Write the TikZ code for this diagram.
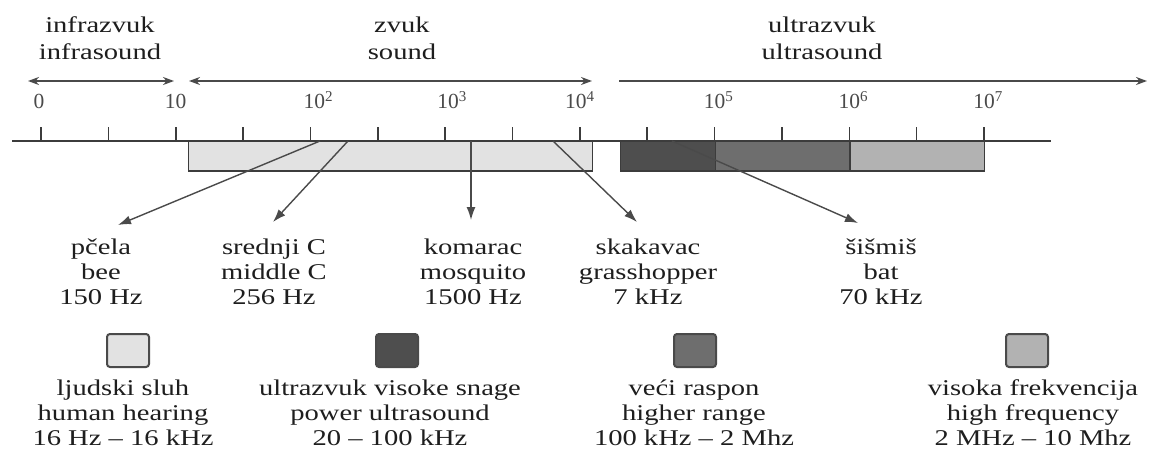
\documentclass[tikz,border=0pt]{standalone}
\usepackage{fontspec}
\setmainfont[FakeStretch=1.27]{Liberation Serif}
\newfontfamily\tickfont{Liberation Serif}
\usetikzlibrary{arrows.meta}
\definecolor{txt}{HTML}{1E1E1E}
\definecolor{ln}{HTML}{3C3C3C}
\definecolor{tk}{HTML}{4A4A4A}
\definecolor{humanfill}{HTML}{E2E2E2}
\definecolor{powerfill}{HTML}{4E4E4E}
\definecolor{higherfill}{HTML}{6E6E6E}
\definecolor{highfill}{HTML}{B2B2B2}
\newcommand{\ml}[1]{\begin{tabular}[t]{@{}c@{}}#1\end{tabular}}
\tikzset{
  txtnode/.style={anchor=base, inner sep=0pt, text=txt, font=\fontsize{22.5}{25}\selectfont},
  titlenode/.style={anchor=base, inner sep=0pt, text=txt, font=\fontsize{22.5}{27}\selectfont},
  ticklab/.style={anchor=base, inner sep=0pt, text=tk, font=\tickfont\fontsize{21.5}{24}\selectfont},
  tickline/.style={draw=ln, line width=1.6pt},
  axisline/.style={draw=ln, line width=1.8pt},
  rangearrow/.style={draw=tk, line width=1.8pt, -{Stealth[length=11pt,width=8pt]}},
  rangearrows/.style={draw=tk, line width=1.8pt, {Stealth[length=11pt,width=8pt]}-{Stealth[length=11pt,width=8pt]}},
  bandbox/.style={draw=ln, line width=1.4pt},
  pointer/.style={draw=tk, line width=1.4pt, -{Latex[length=13pt,width=9pt]}},
  legendsq/.style={draw=tk, line width=2pt, rounded corners=3pt, minimum width=42pt, minimum height=33pt, inner sep=0pt},
}
\begin{document}
\begin{tikzpicture}[x=1pt,y=-1pt]
\useasboundingbox (0,0) rectangle (1150,449);
\fill[white] (0,0) rectangle (1150,449);

% range titles
\node[titlenode] (infra) at (100,33) {\ml{infrazvuk\\infrasound}};
\node[titlenode] (zvuk) at (402,33) {\ml{zvuk\\sound}};
\node[titlenode] (ultra) at (822,33) {\ml{ultrazvuk\\ultrasound}};

% range arrows
\coordinate (ia) at (28,81);  \coordinate (ib) at (174,81);
\coordinate (sa) at (189,81); \coordinate (sb) at (592,81);
\coordinate (ua) at (619,81); \coordinate (ub) at (1147,81);
\draw[rangearrows] (ia) -- (ib);
\draw[rangearrows] (sa) -- (sb);
\draw[rangearrow] (ua) -- (ub);

% bands
\node[bandbox, fill=humanfill, anchor=north west, minimum width=404.5pt, minimum height=29.5pt, inner sep=0pt] (human) at (187.5,141) {};
\node[bandbox, fill=powerfill, anchor=north west, minimum width=94.6pt, minimum height=29.5pt, inner sep=0pt] (power) at (620,141) {};
\node[bandbox, fill=higherfill, anchor=north west, minimum width=134.7pt, minimum height=29.5pt, inner sep=0pt] (higher) at (714.6,141) {};
\node[bandbox, fill=highfill, anchor=north west, minimum width=134.7pt, minimum height=29.5pt, inner sep=0pt] (high) at (849.3,141) {};

% axis and ticks
\coordinate (axL) at (12,141); \coordinate (axR) at (1051,141);
\draw[axisline] (axL) -- (axR);
\foreach \i in {0,...,14} {
  \coordinate (t\i) at ({41+67.36*\i},141);
  \draw[tickline] (t\i) -- ++(0,-14);
}
\foreach \i/\l/\dx in {0/0/-2, 2/10/0, 4/10\rlap{\textsuperscript{2}}/4, 6/10\rlap{\textsuperscript{3}}/3, 8/10\rlap{\textsuperscript{4}}/-4, 10/10\rlap{\textsuperscript{5}}/0, 12/10\rlap{\textsuperscript{6}}/0, 14/10\rlap{\textsuperscript{7}}/0} {
  \node[ticklab] (lab\i) at ({41+67.36*\i+\dx},109) {\l};
}

% pointer targets
\node[txtnode] (bee) at (101,254) {\ml{pčela\\bee\\150 Hz}};
\node[txtnode] (midc) at (274,254) {\ml{srednji C\\middle C\\256 Hz}};
\node[txtnode] (mosq) at (473,254) {\ml{komarac\\mosquito\\1500 Hz}};
\node[txtnode] (grass) at (648,254) {\ml{skakavac\\grasshopper\\7 kHz}};
\node[txtnode] (bat) at (881,254) {\ml{šišmiš\\bat\\70 kHz}};

\coordinate (pb0) at (320,141); \coordinate (pb1) at (118,225);
\coordinate (pm0) at (348,141); \coordinate (pm1) at (273,222);
\coordinate (pq0) at (471,141); \coordinate (pq1) at (471,220);
\coordinate (pg0) at (553,141); \coordinate (pg1) at (637,222);
\coordinate (pt0) at (672,141); \coordinate (pt1) at (858,223);
\draw[pointer] (pb0) -- (pb1);
\draw[pointer] (pm0) -- (pm1);
\draw[pointer] (pq0) -- (pq1);
\draw[pointer] (pg0) -- (pg1);
\draw[pointer] (pt0) -- (pt1);

% legend
\node[legendsq, fill=humanfill] (sq1) at (128,350.5) {};
\node[legendsq, fill=powerfill] (sq2) at (397,350.5) {};
\node[legendsq, fill=higherfill] (sq3) at (695,350.5) {};
\node[legendsq, fill=highfill] (sq4) at (1027,350.5) {};

\node[txtnode] (leg1) at (123,395) {\ml{ljudski sluh\\human hearing\\16 Hz – 16 kHz}};
\node[txtnode] (leg2) at (390,395) {\ml{ultrazvuk visoke snage\\power ultrasound\\20 – 100 kHz}};
\node[txtnode] (leg3) at (694,395) {\ml{veći raspon\\higher range\\100 kHz – 2 Mhz}};
\node[txtnode] (leg4) at (1033,395) {\ml{visoka frekvencija\\high frequency\\2 MHz – 10 Mhz}};
\end{tikzpicture}
\end{document}
